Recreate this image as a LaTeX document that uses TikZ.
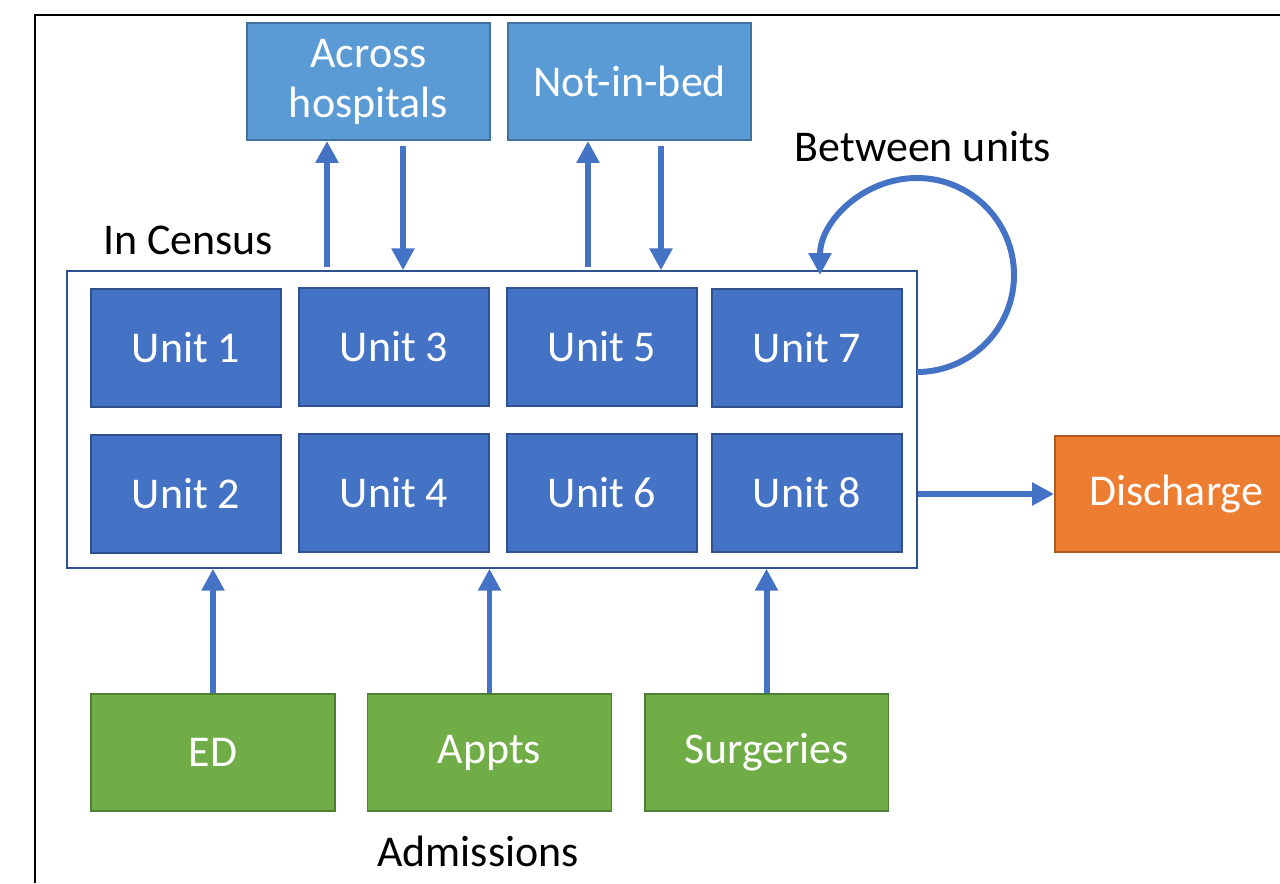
\documentclass[tikz,border=0pt]{standalone}
\usepackage{fontspec}
\setmainfont{Carlito}
\usepackage{xcolor}
\usetikzlibrary{arrows.meta}

\definecolor{unitblue}{HTML}{4472C4}
\definecolor{unitedge}{HTML}{2F528F}
\definecolor{awayblue}{HTML}{5B9BD5}
\definecolor{awayedge}{HTML}{41719C}
\definecolor{admgreen}{HTML}{70AD47}
\definecolor{admedge}{HTML}{507E32}
\definecolor{outorange}{HTML}{ED7D31}
\definecolor{outedge}{HTML}{AE5A21}

\begin{document}
\begin{tikzpicture}[x=0.02cm, y=-0.02cm,
    every node/.style={font=\fontsize{25}{28.5}\selectfont},
    box/.style={draw, line width=1.1pt, text=white, align=center, inner sep=0pt},
    unitbox/.style={box, fill=unitblue, draw=unitedge, minimum width=3.8cm, minimum height=2.36cm},
    awaybox/.style={box, fill=awayblue, draw=awayedge, minimum width=4.86cm, minimum height=2.34cm},
    admbox/.style={box, fill=admgreen, draw=admedge, minimum width=4.88cm, minimum height=2.34cm},
    outbox/.style={box, fill=outorange, draw=outedge, minimum width=4.84cm, minimum height=2.32cm},
    flow/.style={draw=unitblue, line width=3.4pt, -{Triangle[length=12.5pt,width=12.5pt]}}]
      \useasboundingbox (0,0) rectangle (1280,883);

      % frame
      \coordinate (frameBL) at (35,883);
      \coordinate (frameTL) at (35,15);
      \coordinate (frameTR) at (1280,15);
      \draw[line width=0.9pt] (frameBL) -- (frameTL) -- (frameTR);

      % census and the units inside it
      \node[draw=unitedge, fill=white, line width=0.85pt, minimum width=17cm, minimum height=5.94cm] (census) at (492,419.5) {};
      \node (censuslbl) at (188,240) {In Census};

      \node[unitbox] (u1) at (186,348) {Unit 1};
      \node[unitbox] (u3) at (394,347) {Unit 3};
      \node[unitbox] (u5) at (602,347) {Unit 5};
      \node[unitbox] (u7) at (807,348) {Unit 7};
      \node[unitbox] (u2) at (186,494) {Unit 2};
      \node[unitbox] (u4) at (394,493) {Unit 4};
      \node[unitbox] (u6) at (602,493) {Unit 6};
      \node[unitbox] (u8) at (807,493) {Unit 8};

      % places away from a bed
      \node[awaybox] (across) at (368.5,81.5) {Across\\hospitals};
      \node[awaybox] (notbed) at (629.5,81.5) {Not-in-bed};

      \coordinate (acrossOut) at (327,0);
      \coordinate (acrossIn) at (403,0);
      \coordinate (notbedOut) at (588,0);
      \coordinate (notbedIn) at (661,0);

      \draw[flow] ([yshift=0.06cm]census.north -| acrossOut) -- (across.south -| acrossOut);
      \draw[flow] ([yshift=-0.1cm]across.south -| acrossIn) -- (census.north -| acrossIn);
      \draw[flow] ([yshift=0.06cm]census.north -| notbedOut) -- (notbed.south -| notbedOut);
      \draw[flow] ([yshift=-0.1cm]notbed.south -| notbedIn) -- (census.north -| notbedIn);

      % moves between units
      \node (betweenlbl) at (923,147) {Between units};
      \coordinate (loopstart) at (917,372);
      \draw[flow] (loopstart) arc[start angle=90, end angle=-180, radius=97];

      % discharge
      \node[outbox] (discharge) at (1176,494) {Discharge};
      \draw[flow] (census.east |- discharge) -- (discharge.west);

      % admissions
      \node[admbox] (ed) at (213,752.5) {ED};
      \node[admbox] (appts) at (489.5,752.5) {Appts};
      \node[admbox] (surg) at (766.5,752.5) {Surgeries};
      \node (admlbl) at (478,851) {Admissions};

      \draw[flow] (ed.north) -- (census.south -| ed.north);
      \draw[flow] (appts.north) -- (census.south -| appts.north);
      \draw[flow] (surg.north) -- (census.south -| surg.north);
\end{tikzpicture}
\end{document}
